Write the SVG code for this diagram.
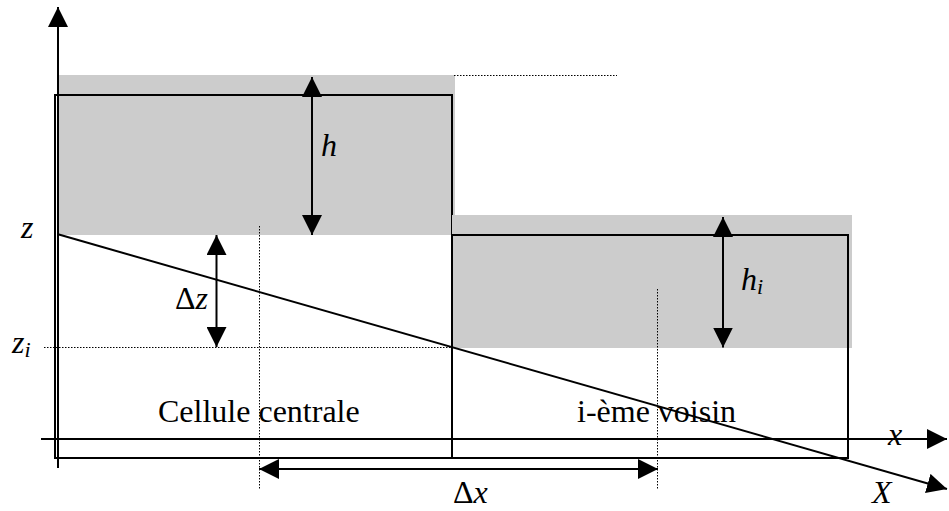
<svg xmlns="http://www.w3.org/2000/svg" width="949" height="511" viewBox="0 0 949 511">
<style>
.band{fill:#cccccc;stroke:none}
.cell{fill:none;stroke:#000;stroke-width:2}
.ln{fill:none;stroke:#000;stroke-width:2}
.dot{fill:none;stroke:#000;stroke-width:1;stroke-dasharray:1.5 1.5}
</style>
<defs>
<marker id="ah" markerUnits="userSpaceOnUse" markerWidth="20" markerHeight="20" viewBox="0 0 20 20" refX="20" refY="10" orient="auto-start-reverse">
<path d="M0,0 L20,10 L0,20 z" fill="#000"/>
</marker>
</defs>
<rect width="949" height="511" fill="#fff"/>
<g id="cellule-centrale">
<rect class="band" x="58" y="75" width="397" height="160"/>
<rect class="cell" x="55" y="95" width="397" height="363"/>
<text x="158" y="422" font-family="Liberation Serif" font-size="32">Cellule centrale</text>
</g>
<g id="voisin">
<rect class="band" x="452" y="215" width="400" height="133"/>
<rect class="cell" x="452" y="235" width="396" height="223"/>
<text x="577" y="422" font-family="Liberation Serif" font-size="32">i-ème voisin</text>
</g>
<g id="guides">
<line class="dot" x1="454" y1="75.5" x2="617" y2="75.5"/>
<line class="dot" x1="44" y1="347.5" x2="452" y2="347.5"/>
<line class="dot" x1="259.5" y1="226" x2="259.5" y2="490"/>
<line class="dot" x1="657.5" y1="289" x2="657.5" y2="490"/>
</g>
<g id="connectors">
<line class="ln" x1="58" y1="468" x2="58" y2="7" marker-end="url(#ah)"/>
<line class="ln" x1="41" y1="439" x2="947" y2="439" marker-end="url(#ah)"/>
<line class="ln" x1="58" y1="234.3" x2="947" y2="489" marker-end="url(#ah)"/>
<line class="ln" x1="312" y1="77" x2="312" y2="235" marker-start="url(#ah)" marker-end="url(#ah)"/>
<line class="ln" x1="216.5" y1="235" x2="216.5" y2="347" marker-start="url(#ah)" marker-end="url(#ah)"/>
<line class="ln" x1="723" y1="217" x2="723" y2="347.5" marker-start="url(#ah)" marker-end="url(#ah)"/>
<line class="ln" x1="259" y1="469" x2="658" y2="469" marker-start="url(#ah)" marker-end="url(#ah)"/>
</g>
<g id="labels">
<text x="21" y="238" font-family="Liberation Serif" font-size="32" font-style="italic">z</text>
<text x="12" y="353" font-family="Liberation Serif" font-size="32" font-style="italic">z<tspan font-size="22" dy="4">i</tspan></text>
<text x="175" y="309" font-family="Liberation Serif" font-size="32">Δ<tspan font-style="italic">z</tspan></text>
<text x="321" y="156" font-family="Liberation Serif" font-size="32" font-style="italic">h</text>
<text x="741" y="290" font-family="Liberation Serif" font-size="32" font-style="italic">h<tspan font-size="22" dy="4">i</tspan></text>
<text x="888" y="445" font-family="Liberation Serif" font-size="32" font-style="italic">x</text>
<text x="872" y="503" font-family="Liberation Serif" font-size="32" font-style="italic">X</text>
<text x="453" y="503" font-family="Liberation Serif" font-size="32">Δ<tspan font-style="italic">x</tspan></text>
</g>
</svg>
